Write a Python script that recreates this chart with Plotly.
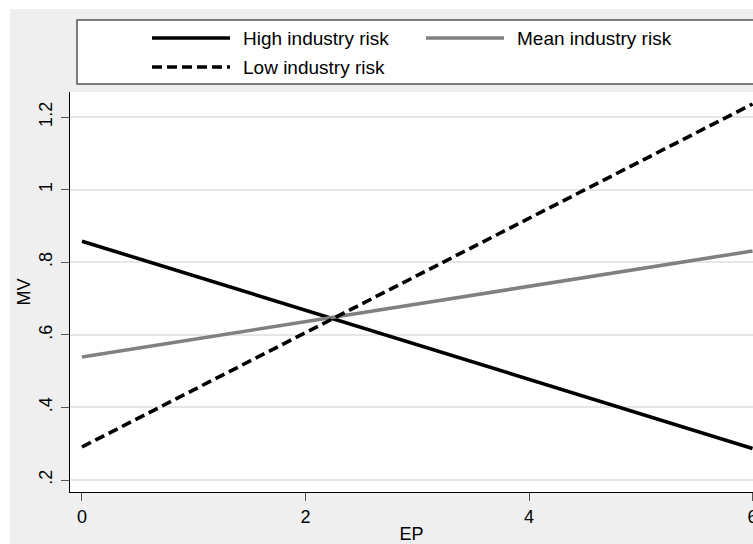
import plotly.graph_objects as go

# ---- data ----
ep = [0, 6]
high_risk = [0.858, 0.287]
mean_risk = [0.539, 0.831]
low_risk = [0.291, 1.236]

series_names = ["High industry risk", "Mean industry risk", "Low industry risk"]
series_values = [high_risk, mean_risk, low_risk]
series_colors = ["#000000", "#808080", "#000000"]
series_dash = ["solid", "solid", "10px,5px"]

y_tickvals = [0.2, 0.4, 0.6, 0.8, 1.0, 1.2]
y_ticktext = [".2", ".4", ".6", ".8", "1", "1.2"]
x_tickvals = [0, 2, 4, 6]

# ---- geometry (pixels) ----
W, H = 753, 544
ML, MR, MT, MB = 70, 0, 92, 52
PW, PH = W - ML - MR, H - MT - MB


def px(x):
    return (x - ML) / PW


def py(y):
    return (H - MB - y) / PH


FONT = "Arial, Liberation Sans, sans-serif"

fig = go.Figure()
for name, vals, col, dash in zip(series_names, series_values, series_colors, series_dash):
    fig.add_trace(go.Scatter(
        x=ep, y=vals, mode="lines", name=name,
        line=dict(color=col, width=3.6, dash=dash),
        showlegend=False,
    ))

shapes = [
    # white outer strips
    dict(type="rect", xref="paper", yref="paper", x0=px(0), x1=px(10), y0=py(H), y1=py(0),
         fillcolor="white", line_width=0, layer="below"),
    dict(type="rect", xref="paper", yref="paper", x0=px(0), x1=px(W), y0=py(9), y1=py(0),
         fillcolor="white", line_width=0, layer="below"),
    # legend box
    dict(type="rect", xref="paper", yref="paper", x0=px(77), x1=px(W + 5), y0=py(84), y1=py(20),
         fillcolor="white", line=dict(color="#555555", width=1.5)),
]
annotations = []

# legend layout: positions for each entry (sample start, row y)
legend_pos = [(152, 38), (426, 38), (152, 67)]
for (x0, yy), name, col, dash in zip(legend_pos, series_names, series_colors, series_dash):
    shapes.append(dict(type="line", xref="paper", yref="paper",
                       x0=px(x0), x1=px(x0 + 78), y0=py(yy), y1=py(yy),
                       line=dict(color=col, width=3.6, dash=dash)))
    annotations.append(dict(xref="paper", yref="paper", x=px(x0 + 89), y=py(yy),
                            text=name, showarrow=False, xanchor="left", yanchor="middle",
                            font=dict(family=FONT, size=19, color="#000000")))

fig.update_layout(
    width=W, height=H,
    margin=dict(l=ML, r=MR, t=MT, b=MB, pad=0, autoexpand=False),
    paper_bgcolor="#efefef",
    plot_bgcolor="white",
    font=dict(family=FONT, size=18, color="#000000"),
    shapes=shapes,
    annotations=annotations,
    showlegend=False,
)

fig.update_xaxes(
    range=[-0.107, 6.004],
    tickvals=x_tickvals,
    automargin=False,
    ticks="outside", ticklen=8, tickcolor="#555555", tickwidth=1,
    ticklabeloverflow="allow",
    showgrid=False, zeroline=False,
    showline=True, linecolor="#000000", linewidth=1.2,
    tickfont=dict(size=18),
    title=dict(text="EP", font=dict(size=18), standoff=8),
)
fig.update_yaxes(
    range=[0.167, 1.269],
    tickvals=y_tickvals, ticktext=y_ticktext,
    tickangle=-90,
    automargin=False,
    ticks="outside", ticklen=8, tickcolor="#555555", tickwidth=1,
    ticklabelstandoff=2,
    showgrid=True, gridcolor="#e6e6e6", gridwidth=1.5,
    zeroline=False,
    showline=True, linecolor="#000000", linewidth=1.2,
    tickfont=dict(size=18),
    title=dict(text="MV", font=dict(size=18), standoff=0),
)

fig.write_html(
    "out.html",
    config={"displayModeBar": False},
    post_script="document.body.style.margin='0';document.body.style.overflow='hidden';",
)
